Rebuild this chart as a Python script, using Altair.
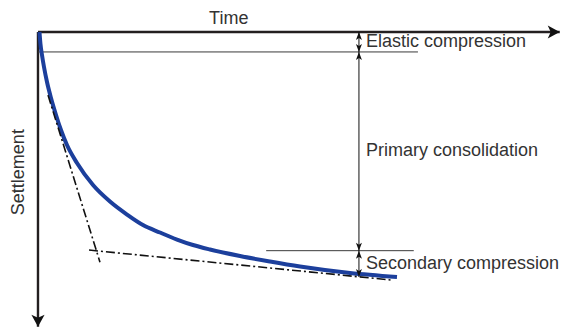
import altair as alt
import pandas as pd

# ---- data (chart units: time along the arrow, settlement downward) ----
curve_time = [0.28, 0.47, 0.76, 1.14, 1.71, 2.47, 3.42, 4.36, 5.50, 7.40, 10.44, 13.66,
              16.89, 19.92, 23.15, 26.38, 29.41, 32.64, 38.33, 44.02, 49.72, 59.20, 68.12]
curve_settlement = [0.0, 3.97, 7.62, 11.59, 16.56, 21.85, 27.48, 32.45, 37.42, 43.38, 50.66, 56.13,
                    60.43, 63.91, 66.39, 68.71, 70.53, 72.02, 74.17, 75.99, 77.65, 79.80, 81.13]

steep_tangent_time = [1.90, 11.76]
steep_tangent_settlement = [20.9, 76.2]
flat_tangent_time = [9.68, 66.98]
flat_tangent_settlement = [72.2, 82.1]

time_axis_length = 99.0
settlement_axis_length = 97.6
elastic_level = 6.6
primary_level = 72.4
final_level = 81.1
elastic_line_end = 72.1
secondary_line_start = 43.3
secondary_line_end = 71.3
dimension_time = 60.9

labels = ["Elastic compression", "Primary consolidation", "Secondary compression"]
axis_titles = ["Time", "Settlement"]

# ---- scales ----
W, H = 553, 320
xs = alt.Scale(domain=[-5.69, 99.24], nice=False, zero=False)
ys = alt.Scale(domain=[-7.95, 98.0], nice=False, zero=False, reverse=True)
X = lambda f: alt.X(f, type="quantitative", scale=xs, axis=None)
Y = lambda f: alt.Y(f, type="quantitative", scale=ys, axis=None)

FONT = "Liberation Sans"
FS = 18
TXT = "#333333"

curve_df = pd.DataFrame({"t": curve_time, "s": curve_settlement})
curve = alt.Chart(curve_df).mark_line(
    color="#1c3f9c", strokeWidth=4, interpolate="monotone"
).encode(x=X("t"), y=Y("s"), order="t:Q")

tang_df = pd.DataFrame({
    "t": steep_tangent_time + flat_tangent_time,
    "s": steep_tangent_settlement + flat_tangent_settlement,
    "g": ["steep", "steep", "flat", "flat"],
})
tangents = alt.Chart(tang_df).mark_line(
    color="#111111", strokeWidth=1.6, strokeDash=[9, 3, 2, 3]
).encode(x=X("t"), y=Y("s"), detail="g:N")

# axes (thick rules)
axes_df = pd.DataFrame({
    "t": [0, 0], "s": [0, 0],
    "t2": [time_axis_length, 0], "s2": [0, settlement_axis_length],
})
axes = alt.Chart(axes_df).mark_rule(color="#231f20", strokeWidth=2.4).encode(
    x=X("t"), y=Y("s"), x2="t2:Q", y2="s2:Q")

# thin reference lines
ref_df = pd.DataFrame({
    "t": [0, secondary_line_start], "t2": [elastic_line_end, secondary_line_end],
    "s": [elastic_level, primary_level],
})
refs = alt.Chart(ref_df).mark_rule(color="#3a3a3a", strokeWidth=1).encode(
    x=X("t"), x2="t2:Q", y=Y("s"))

# dimension line
dim_df = pd.DataFrame({"t": [dimension_time], "s": [0], "s2": [final_level]})
dim = alt.Chart(dim_df).mark_rule(color="#111111", strokeWidth=1).encode(
    x=X("t"), y=Y("s"), y2="s2:Q")

RIGHT = "M0,0L-2,-1.1L-1.5,0L-2,1.1Z"
DOWN = "M0,0L-1.1,-2L0,-1.5L1.1,-2Z"
UP_S = "M0,0L-0.75,2L0,1.5L0.75,2Z"
DOWN_S = "M0,0L-0.75,-2L0,-1.5L0.75,-2Z"
heads_df = pd.DataFrame({
    "t": [time_axis_length, 0] + [dimension_time] * 6,
    "s": [0, settlement_axis_length, 0, elastic_level, elastic_level,
          primary_level, primary_level, final_level],
    "shape": [RIGHT, DOWN, UP_S, DOWN_S, UP_S, DOWN_S, UP_S, DOWN_S],
    "size": [144, 144, 64, 64, 64, 64, 64, 64],
})
heads = alt.Chart(heads_df).mark_point(filled=True, opacity=1, strokeWidth=0).encode(
    x=X("t"), y=Y("s"),
    shape=alt.Shape("shape:N", scale=None),
    size=alt.Size("size:Q", scale=None),
    color=alt.value("#111111"),
)

# labels
lab_df = pd.DataFrame({
    "label": labels,
    "t": [dimension_time] * 3,
    "s": [elastic_level / 2, (elastic_level + primary_level) / 2, (primary_level + final_level) / 2],
    "dy": [1.5, -5, 0],
})
lab = alt.Chart(lab_df).mark_text(
    align="left", baseline="middle", dx=7, font=FONT, fontSize=FS, color=TXT
).encode(x=X("t"), y=Y("s"), text="label:N", yOffset=alt.YOffset("dy:Q", scale=None))

time_df = pd.DataFrame({"label": [axis_titles[0]], "t": [36.2], "s": [-4.3]})
time_t = alt.Chart(time_df).mark_text(
    align="center", baseline="middle", font=FONT, fontSize=FS, color=TXT
).encode(x=X("t"), y=Y("s"), text="label:N")

sett_df = pd.DataFrame({"label": [axis_titles[1]], "t": [-3.6], "s": [46.4]})
sett_t = alt.Chart(sett_df).mark_text(
    align="center", baseline="middle", angle=270, font=FONT, fontSize=FS, color=TXT
).encode(x=X("t"), y=Y("s"), text="label:N")

chart = alt.layer(axes, refs, dim, curve, tangents, heads, lab, time_t, sett_t).properties(
    width=W, height=H, autosize=alt.AutoSizeParams(type="none"), padding=0
).configure_view(stroke=None)

chart.save("out.html", embed_options={"renderer": "svg", "actions": False})
